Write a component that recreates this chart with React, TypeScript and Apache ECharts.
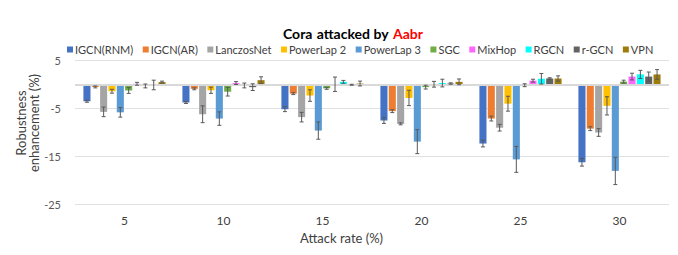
import React, { useEffect, useRef } from "react";
import * as echarts from "echarts";

const categories = ["5", "10", "15", "20", "25", "30"];
const seriesNames = ["IGCN(RNM)", "IGCN(AR)", "LanczosNet", "PowerLap 2", "PowerLap 3", "SGC", "MixHop", "RGCN", "r-GCN", "VPN"];
const colors = ["#4472C4", "#ED7D31", "#A5A5A5", "#FFC000", "#5B9BD5", "#70AD47", "#FF66FF", "#00FFFF", "#636363", "#9E7C0C"];

const igcnRnm = [-3.5, -3.75, -5.15, -7.5, -12.3, -16.2];
const igcnAr = [-0.5, -0.9, -1.9, -5.55, -7.1, -9.2];
const lanczos = [-5.7, -6.2, -6.8, -8.2, -9.0, -10.0];
const powerLap2 = [-1.4, -1.2, -2.3, -2.8, -4.0, -4.45];
const powerLap3 = [-5.8, -7.1, -9.6, -11.9, -15.6, -18.0];
const sgc = [-1.25, -1.5, -0.8, -0.55, -0.15, 0.6];
const mixHop = [0.15, 0.3, 0.05, 0.05, 0.8, 1.65];
const rgcn = [-0.3, -0.2, 0.55, 0.3, 1.2, 2.1];
const rGcn = [-0.1, -0.55, -0.05, 0.2, 1.25, 1.65];
const vpn = [0.5, 0.9, 0.2, 0.55, 1.25, 2.1];

const errRnm = [0.2, 0.2, 0.5, 0.6, 0.7, 0.8];
const errAr = [0.2, 0.2, 0.2, 0.3, 0.5, 0.4];
const errLanczos = [1.0, 1.75, 1.0, 0.2, 0.7, 0.8];
const errPowerLap2 = [0.4, 0.65, 1.2, 1.6, 1.55, 1.9];
const errPowerLap3 = [1.0, 1.4, 1.8, 2.5, 2.7, 2.85];
const errSgc = [0.6, 0.9, 0.2, 0.4, 0.3, 0.3];
const errMixHop = [0.3, 0.3, 1.5, 0.6, 0.3, 0.7];
const errRgcn = [0.4, 0.5, 0.3, 0.8, 1.1, 0.85];
const errRGcn = [1.0, 0.7, 0.1, 0.15, 0.15, 0.95];
const errVpn = [0.2, 0.7, 0.5, 0.6, 0.55, 1.0];

const allValues = [igcnRnm, igcnAr, lanczos, powerLap2, powerLap3, sgc, mixHop, rgcn, rGcn, vpn];
const allErrors = [errRnm, errAr, errLanczos, errPowerLap2, errPowerLap3, errSgc, errMixHop, errRgcn, errRGcn, errVpn];

const yTicks = { min: -25, max: 5, interval: 10 };

const CAT_GAP = 0.17;
const BAR_GAP = 0.18;
const FONT = "Lato, 'Open Sans', sans-serif";

export default function App() {
  const ref = useRef<HTMLDivElement>(null);
  useEffect(() => {
    if (!ref.current) return;
    const chart = echarts.init(ref.current, undefined, { renderer: "svg" });
    const n = seriesNames.length;

    const barSeries = seriesNames.map((name, i) => ({
      name,
      type: "bar",
      data: allValues[i],
      itemStyle: { color: colors[i] },
      barCategoryGap: CAT_GAP * 100 + "%",
      barGap: BAR_GAP * 100 + "%",
      ...(i === 0
        ? {
            markLine: {
              silent: true,
              symbol: "none",
              label: { show: false },
              lineStyle: { color: "#d9d9d9", width: 2, type: "solid" },
              data: [{ yAxis: 0 }],
            },
          }
        : {}),
    }));

    const errSeries = seriesNames.map((name, i) => ({
      name: name + " err",
      type: "custom",
      z: 10,
      encode: { x: 0, y: 1 },
      data: allValues[i].map((v, k) => [k, v, allErrors[i][k]]),
      renderItem: (params: any, api: any) => {
        const cat = api.value(0);
        const v = api.value(1);
        const e = api.value(2);
        const band = api.size([1, 0])[0];
        const w = (band * (1 - CAT_GAP)) / (n + (n - 1) * BAR_GAP);
        const total = n * w + (n - 1) * w * BAR_GAP;
        const cx = api.coord([cat, v])[0] - total / 2 + i * w * (1 + BAR_GAP) + w / 2;
        const yTop = api.coord([cat, v + e])[1];
        const yBot = api.coord([cat, v - e])[1];
        const cap = 2;
        const style = { stroke: "#595959", lineWidth: 1 };
        return {
          type: "group",
          children: [
            { type: "line", shape: { x1: cx, y1: yTop, x2: cx, y2: yBot }, style },
            { type: "line", shape: { x1: cx - cap, y1: yTop, x2: cx + cap, y2: yTop }, style },
            { type: "line", shape: { x1: cx - cap, y1: yBot, x2: cx + cap, y2: yBot }, style },
          ],
        };
      },
    }));

    chart.setOption({
      animation: false,
      textStyle: { fontFamily: FONT },
      title: {
        left: 278,
        top: 19,
        text: "{b|Cora} {n|attacked by} {r|Aabr}",
        textStyle: {
          rich: {
            b: { fontFamily: FONT, fontWeight: "bold", fontSize: 14, color: "#000" },
            n: { fontFamily: FONT, fontSize: 14, color: "#000" },
            r: { fontFamily: FONT, fontWeight: "bold", fontSize: 14, color: "#FF0000" },
          },
        },
      },
      legend: {
        data: seriesNames,
        top: 39,
        left: 62,
        icon: "rect",
        itemWidth: 6,
        itemHeight: 6,
        itemGap: 9.5,
        textStyle: { fontFamily: FONT, fontSize: 11, color: "#404040", padding: [0, 0, 0, -3] },
      },
      grid: { left: 75, right: 9, top: 60.5, bottom: 50.5, outerBoundsMode: "none" },
      xAxis: {
        type: "category",
        data: categories,
        axisLine: { show: false },
        axisTick: { show: false },
        axisLabel: { fontFamily: FONT, fontSize: 12, color: "#404040", margin: 10 },
      },
      yAxis: {
        type: "value",
        min: yTicks.min,
        max: yTicks.max,
        interval: yTicks.interval,
        axisLine: { show: false },
        axisTick: { show: false },
        axisLabel: { fontFamily: FONT, fontSize: 11, color: "#595959", margin: 14 },
        splitLine: { lineStyle: { color: "#e0e0e0", width: 1 } },
      },
      graphic: [
        {
          type: "text",
          x: 27,
          y: 123,
          rotation: Math.PI / 2,
          style: {
            text: "Robustness\nenhancement (%)",
            fontFamily: FONT,
            fontSize: 13,
            lineHeight: 13,
            fill: "#404040",
            align: "center",
            verticalAlign: "middle",
          },
        },
        {
          type: "text",
          left: 300,
          top: 231,
          style: { text: "Attack rate (%)", fontFamily: FONT, fontSize: 13, fill: "#404040" },
        },
      ],
      series: [...barSeries, ...errSeries],
    });
    return () => chart.dispose();
  }, []);
  return <div ref={ref} style={{ width: 678, height: 255, position: "absolute", left: 0, top: 0 }} />;
}
